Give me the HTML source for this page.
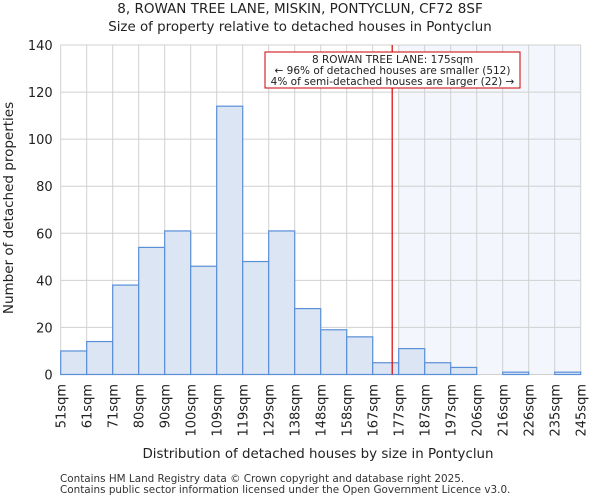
<!DOCTYPE html>
<html><head><meta charset="utf-8"><style>
body{margin:0;background:#fff;font-family:"DejaVu Sans","Liberation Sans",sans-serif;}
</style></head><body>
<svg id="c" width="600" height="500" xmlns="http://www.w3.org/2000/svg" font-family="DejaVu Sans, Liberation Sans, sans-serif">
<text x="300" y="13" text-anchor="middle" font-size="13.5" fill="#222">8, ROWAN TREE LANE, MISKIN, PONTYCLUN, CF72 8SF</text>
<text x="300" y="31" text-anchor="middle" font-size="13.4" fill="#222">Size of property relative to detached houses in Pontyclun</text>
<g id="plot"></g>
<text x="318" y="458" text-anchor="middle" font-size="13.4" fill="#222">Distribution of detached houses by size in Pontyclun</text>
<text transform="translate(13,208) rotate(-90)" text-anchor="middle" font-size="13.5" fill="#222">Number of detached properties</text>
<text x="60" y="482" font-size="10.4" fill="#333">Contains HM Land Registry data © Crown copyright and database right 2025.</text>
<text x="60" y="493" font-size="10.4" fill="#333">Contains public sector information licensed under the Open Government Licence v3.0.</text>
</svg>
<script>
const binLabels=["51sqm","61sqm","71sqm","80sqm","90sqm","100sqm","109sqm","119sqm","129sqm","138sqm","148sqm","158sqm","167sqm","177sqm","187sqm","197sqm","206sqm","216sqm","226sqm","235sqm","245sqm"];
const counts=[10,14,38,54,61,46,114,48,61,28,19,16,5,11,5,3,0,1,0,1];
const yTicks=[0,20,40,60,80,100,120,140];
const markerBin=12.75;
const highlightFrom=13;
const NS="http://www.w3.org/2000/svg";
const L=60.7,R=580.7,T=45,B=374.5,yMax=140;
const bw=(R-L)/counts.length;
const x=i=>L+i*bw;
const y=v=>B-(v/yMax)*(B-T);
const g=document.getElementById('plot');
function mk(t,a){const e=document.createElementNS(NS,t);for(const k in a)e.setAttribute(k,a[k]);g.appendChild(e);return e;}
let e;
e=mk('rect',{x:x(highlightFrom),y:T,width:R-x(highlightFrom),height:B-T,fill:'#f3f6fd'});


for(let i=0;i<=counts.length;i++){e=mk('line',{x1:x(i),x2:x(i),y1:T,y2:B,stroke:'#d0d0d0','stroke-width':1});

}
yTicks.forEach(v=>{e=mk('line',{x1:L,x2:R,y1:y(v),y2:y(v),stroke:'#d0d0d0','stroke-width':1});


e=mk('text',{x:L-8,y:y(v)+5,'text-anchor':'end','font-size':13,fill:'#222'});e.textContent=v;

});
counts.forEach((c,i)=>{e=mk('rect',{x:x(i),y:y(c),width:bw,height:B-y(c),fill:'#dbe5f4',stroke:'#5a8fd8','stroke-width':1.2});

});
binLabels.forEach((s,i)=>{e=mk('text',{transform:`translate(${x(i)+5},384) rotate(-90)`,'text-anchor':'end','font-size':13,fill:'#222'});e.textContent=s;

});
const mx=x(markerBin);
e=mk('line',{x1:mx,x2:mx,y1:T,y2:B,stroke:'#d00','stroke-width':1.2});


e=mk('rect',{x:265,y:52,width:255,height:36,fill:'#fff',stroke:'#c00','stroke-width':1});


["8 ROWAN TREE LANE: 175sqm","← 96% of detached houses are smaller (512)","4% of semi-detached houses are larger (22) →"].forEach((t,i)=>{
e=mk('text',{x:392.5,y:63+i*11,'text-anchor':'middle','font-size':10.5,fill:'#222'});e.textContent=t;

});
</script>
</body></html>
